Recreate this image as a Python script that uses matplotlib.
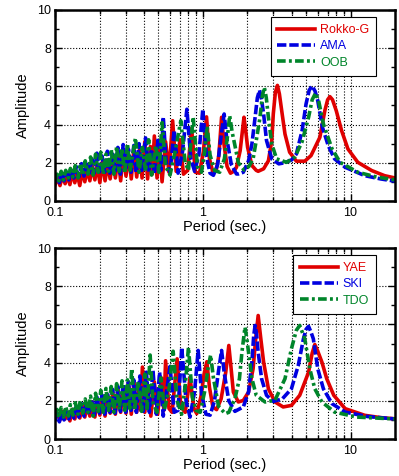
import matplotlib
matplotlib.use('Agg')
import matplotlib.pyplot as plt
from matplotlib.ticker import FixedLocator, NullFormatter, FixedFormatter
import numpy as np

plt.rcParams['font.family'] = ['Liberation Sans', 'DejaVu Sans']

# (period [s], amplitude), upper panel
rokko_g = [(0.100, 0.85), (0.104, 1.20), (0.108, 0.80), (0.112, 1.30), (0.117, 0.90), (0.121, 1.35),
           (0.126, 0.85), (0.131, 1.50), (0.136, 0.95), (0.141, 1.45), (0.147, 0.80), (0.153, 1.60),
           (0.159, 1.00), (0.165, 1.65), (0.172, 1.05), (0.179, 1.80), (0.186, 1.10), (0.193, 1.90),
           (0.201, 0.95), (0.209, 2.05), (0.218, 1.05), (0.227, 1.95), (0.236, 1.15), (0.246, 2.25),
           (0.256, 1.20), (0.267, 2.35), (0.278, 1.05), (0.290, 2.55), (0.302, 1.30), (0.315, 2.40),
           (0.328, 1.15), (0.342, 2.75), (0.357, 1.25), (0.372, 2.65), (0.388, 1.20), (0.405, 3.10),
           (0.423, 1.15), (0.442, 2.85), (0.455, 1.40), (0.470, 3.40), (0.490, 1.20), (0.510, 2.90),
           (0.530, 1.00), (0.560, 3.10), (0.590, 1.50), (0.625, 4.20), (0.660, 1.55), (0.700, 3.20),
           (0.740, 1.40), (0.790, 1.60), (0.840, 3.80), (0.890, 1.50), (0.950, 1.45), (1.010, 2.60),
           (1.060, 4.40), (1.110, 2.20), (1.170, 1.50), (1.230, 1.55), (1.285, 2.40), (1.340, 4.38),
           (1.390, 3.00), (1.460, 1.80), (1.540, 1.45), (1.620, 1.55), (1.690, 1.76), (1.790, 2.63),
           (1.850, 3.60), (1.900, 4.38), (1.950, 3.70), (2.010, 2.81), (2.150, 1.85), (2.300, 1.60),
           (2.370, 1.55), (2.580, 1.68), (2.780, 2.10), (2.930, 3.16), (3.000, 4.55), (3.100, 5.70),
           (3.200, 6.05), (3.300, 5.60), (3.420, 4.73), (3.600, 3.50), (3.870, 2.55), (4.300, 2.08),
           (4.900, 2.08), (5.400, 2.37), (6.200, 3.33), (6.700, 4.73), (7.000, 5.30), (7.250, 5.46),
           (7.550, 5.30), (8.000, 4.73), (8.700, 3.68), (9.600, 2.72), (11.20, 2.02), (13.90, 1.59),
           (17.00, 1.32), (20.00, 1.20)]

ama = [(0.100, 1.00), (0.103, 1.35), (0.107, 0.95), (0.111, 1.45), (0.115, 1.05), (0.119, 1.50),
       (0.124, 1.10), (0.129, 1.65), (0.134, 1.20), (0.139, 1.80), (0.145, 1.25), (0.151, 1.95),
       (0.157, 1.30), (0.163, 2.05), (0.170, 1.35), (0.177, 2.20), (0.184, 1.45), (0.192, 2.50),
       (0.200, 1.40), (0.208, 2.35), (0.217, 1.50), (0.226, 2.60), (0.235, 1.45), (0.245, 2.45),
       (0.255, 1.55), (0.266, 2.80), (0.277, 1.40), (0.289, 2.95), (0.301, 1.60), (0.314, 2.70),
       (0.327, 1.50), (0.341, 2.90), (0.355, 1.45), (0.370, 3.00), (0.386, 1.60), (0.410, 3.30),
       (0.430, 1.50), (0.450, 2.70), (0.470, 1.40), (0.500, 3.30), (0.520, 1.60), (0.540, 4.40),
       (0.565, 2.00), (0.600, 1.50), (0.640, 3.70), (0.680, 1.45), (0.730, 2.60), (0.780, 4.80),
       (0.830, 2.20), (0.880, 1.55), (0.940, 2.40), (1.000, 4.80), (1.060, 2.30), (1.120, 1.45),
       (1.180, 1.34), (1.260, 1.90), (1.330, 3.40), (1.395, 4.55), (1.450, 3.30), (1.560, 1.90),
       (1.690, 1.41), (1.740, 1.41), (1.880, 1.50), (2.040, 2.10), (2.150, 2.98), (2.260, 4.38),
       (2.340, 5.40), (2.420, 5.80), (2.500, 5.30), (2.580, 4.55), (2.700, 3.16), (2.930, 2.20),
       (3.270, 1.94), (3.600, 2.00), (4.000, 2.15), (4.300, 2.46), (4.700, 3.68), (5.000, 5.08),
       (5.250, 5.80), (5.500, 6.02), (5.750, 5.75), (6.000, 5.25), (6.450, 3.86), (7.060, 2.90),
       (7.800, 2.20), (9.200, 1.76), (12.50, 1.32), (16.00, 1.15), (20.00, 1.03)]

oob = [(0.100, 1.10), (0.103, 1.40), (0.106, 1.05), (0.110, 1.55), (0.114, 1.10), (0.118, 1.60),
       (0.123, 1.20), (0.127, 1.70), (0.132, 1.25), (0.137, 1.85), (0.143, 1.20), (0.148, 1.95),
       (0.154, 1.35), (0.160, 2.10), (0.167, 1.40), (0.174, 2.30), (0.181, 1.35), (0.188, 2.45),
       (0.196, 1.50), (0.204, 2.55), (0.212, 1.40), (0.221, 2.45), (0.230, 1.55), (0.240, 2.70),
       (0.250, 1.40), (0.261, 2.85), (0.272, 1.55), (0.284, 2.75), (0.296, 1.45), (0.309, 3.00),
       (0.322, 1.60), (0.350, 3.30), (0.370, 1.50), (0.390, 2.80), (0.410, 1.55), (0.430, 3.20),
       (0.450, 1.35), (0.480, 2.90), (0.505, 1.50), (0.530, 4.10), (0.560, 1.80), (0.600, 1.35),
       (0.650, 2.60), (0.710, 4.20), (0.760, 2.00), (0.800, 1.60), (0.860, 4.40), (0.920, 1.80),
       (0.980, 1.50), (1.030, 2.60), (1.070, 3.90), (1.120, 2.40), (1.200, 1.60), (1.300, 1.50),
       (1.400, 2.20), (1.470, 3.40), (1.520, 4.47), (1.580, 3.60), (1.650, 2.90), (1.740, 2.00),
       (1.900, 1.62), (2.050, 1.80), (2.190, 2.20), (2.300, 3.16), (2.440, 4.38), (2.530, 5.50),
       (2.610, 5.95), (2.690, 5.40), (2.780, 4.38), (2.930, 2.98), (3.160, 2.20), (3.690, 2.02),
       (4.200, 2.30), (4.700, 3.10), (5.200, 4.38), (5.500, 5.30), (5.800, 5.65), (6.100, 5.20),
       (6.550, 4.03), (7.500, 2.72), (8.500, 2.02), (11.20, 1.50), (15.00, 1.25), (20.00, 1.10)]

# lower panel
yae = [(0.100, 1.05), (0.104, 1.35), (0.108, 1.00), (0.112, 1.45), (0.117, 1.05), (0.121, 1.40),
       (0.126, 0.95), (0.131, 1.55), (0.136, 1.05), (0.141, 1.60), (0.147, 1.10), (0.153, 1.75),
       (0.159, 1.15), (0.165, 1.80), (0.172, 1.20), (0.179, 1.95), (0.186, 1.15), (0.193, 2.05),
       (0.201, 1.25), (0.209, 2.20), (0.218, 1.20), (0.227, 2.30), (0.236, 1.35), (0.246, 2.45),
       (0.256, 1.30), (0.267, 2.60), (0.278, 1.40), (0.290, 2.70), (0.302, 1.35), (0.315, 2.85),
       (0.328, 1.30), (0.342, 3.00), (0.357, 1.40), (0.372, 2.80), (0.380, 1.50), (0.390, 3.77),
       (0.405, 1.40), (0.425, 2.80), (0.445, 1.20), (0.470, 3.00), (0.495, 1.30), (0.525, 3.20),
       (0.545, 1.50), (0.560, 4.10), (0.590, 1.60), (0.620, 1.40), (0.670, 4.20), (0.710, 1.70),
       (0.760, 1.40), (0.820, 3.20), (0.870, 1.60), (0.910, 1.33), (0.970, 2.20), (1.020, 3.40),
       (1.065, 4.05), (1.110, 2.70), (1.170, 1.68), (1.240, 1.54), (1.330, 2.10), (1.430, 3.50),
       (1.500, 4.90), (1.550, 3.80), (1.610, 2.46), (1.740, 1.94), (1.880, 2.02), (2.040, 2.46),
       (2.190, 3.68), (2.280, 5.25), (2.370, 6.47), (2.470, 5.25), (2.580, 4.03), (2.780, 2.63),
       (3.080, 1.94), (3.500, 1.68), (3.980, 1.76), (4.530, 2.29), (5.200, 3.50), (5.500, 4.50),
       (5.730, 4.95), (6.000, 4.60), (6.400, 4.03), (6.900, 3.16), (7.700, 2.29), (9.200, 1.59),
       (12.50, 1.24), (16.00, 1.12), (20.00, 1.06)]

ski = [(0.100, 0.95), (0.103, 1.30), (0.107, 0.90), (0.111, 1.40), (0.115, 1.00), (0.119, 1.45),
       (0.124, 1.05), (0.129, 1.60), (0.134, 1.10), (0.139, 1.70), (0.145, 1.15), (0.151, 1.85),
       (0.157, 1.20), (0.163, 1.90), (0.170, 1.30), (0.177, 2.05), (0.184, 1.25), (0.192, 2.20),
       (0.200, 1.35), (0.208, 2.30), (0.217, 1.30), (0.226, 2.45), (0.235, 1.40), (0.245, 2.60),
       (0.255, 1.35), (0.266, 2.75), (0.277, 1.45), (0.289, 2.90), (0.301, 1.40), (0.314, 3.00),
       (0.327, 1.50), (0.341, 3.10), (0.355, 1.40), (0.375, 3.30), (0.395, 1.45), (0.415, 3.50),
       (0.435, 1.40), (0.460, 3.60), (0.485, 1.30), (0.510, 3.50), (0.540, 1.20), (0.600, 3.80),
       (0.640, 1.40), (0.680, 1.50), (0.720, 4.80), (0.770, 2.00), (0.820, 1.15), (0.880, 2.50),
       (0.930, 4.64), (0.980, 2.40), (1.050, 1.30), (1.120, 1.25), (1.200, 2.00), (1.280, 3.60),
       (1.340, 4.64), (1.400, 3.40), (1.500, 2.00), (1.650, 1.45), (1.880, 1.68), (2.040, 2.46),
       (2.150, 4.03), (2.210, 5.40), (2.260, 5.95), (2.310, 5.50), (2.370, 4.55), (2.500, 3.16),
       (2.700, 2.29), (3.000, 1.97), (3.450, 2.10), (3.980, 2.63), (4.430, 3.86), (4.800, 5.25),
       (5.000, 5.75), (5.200, 5.90), (5.400, 5.60), (5.600, 5.25), (6.000, 3.68), (6.550, 2.63),
       (7.500, 1.85), (9.200, 1.41), (13.00, 1.18), (20.00, 1.05)]

tdo = [(0.100, 1.20), (0.103, 1.55), (0.106, 1.10), (0.110, 1.65), (0.114, 1.15), (0.118, 1.70),
       (0.123, 1.20), (0.127, 1.80), (0.132, 1.25), (0.137, 1.90), (0.143, 1.30), (0.148, 2.00),
       (0.154, 1.35), (0.160, 2.10), (0.167, 1.40), (0.174, 2.25), (0.181, 1.20), (0.188, 2.40),
       (0.196, 1.45), (0.204, 2.55), (0.212, 1.40), (0.221, 2.65), (0.230, 1.50), (0.240, 2.75),
       (0.250, 1.40), (0.261, 2.90), (0.272, 1.55), (0.284, 3.05), (0.296, 1.50), (0.309, 3.10),
       (0.320, 1.60), (0.330, 3.70), (0.345, 1.50), (0.365, 3.00), (0.385, 1.45), (0.405, 3.40),
       (0.420, 1.60), (0.440, 4.40), (0.460, 1.90), (0.490, 1.40), (0.520, 3.20), (0.550, 1.55),
       (0.590, 2.60), (0.630, 4.60), (0.670, 2.00), (0.720, 1.30), (0.760, 2.80), (0.800, 4.80),
       (0.850, 2.20), (0.900, 1.50), (0.960, 1.40), (1.030, 2.50), (1.090, 3.80), (1.130, 4.40),
       (1.180, 3.20), (1.280, 1.70), (1.420, 1.33), (1.500, 1.40), (1.650, 2.11), (1.770, 3.16),
       (1.840, 4.55), (1.930, 5.86), (1.990, 5.20), (2.040, 4.55), (2.150, 3.16), (2.300, 2.29),
       (2.640, 1.94), (3.080, 2.03), (3.600, 3.16), (3.980, 4.73), (4.300, 5.70), (4.530, 5.95),
       (4.900, 5.25), (5.300, 3.68), (5.730, 2.63), (6.400, 1.94), (7.800, 1.41), (11.00, 1.15),
       (20.00, 1.05)]

top_series = [('Rokko-G', rokko_g), ('AMA', ama), ('OOB', oob)]
bottom_series = [('YAE', yae), ('SKI', ski), ('TDO', tdo)]

colors = ['#e00000', '#0000e0', '#00852a']
dashes = [None, (2.6, 0.8), (2.4, 0.9, 0.8, 0.9)]

fig = plt.figure(figsize=(3.99, 4.76), dpi=100)
ax_top = fig.add_axes([0.138, 0.578, 0.852, 0.401])
ax_bot = fig.add_axes([0.138, 0.0777, 0.852, 0.401])

for ax, series in [(ax_top, top_series), (ax_bot, bottom_series)]:
    for (name, pts), c, d in zip(series, colors, dashes):
        p, a = np.array(pts).T
        line, = ax.plot(p, a, color=c, lw=2.6, label=name, solid_joinstyle='round')
        if d is not None:
            line.set_dashes(d)
    ax.set_xscale('log')
    ax.set_xlim(0.1, 20)
    ax.set_ylim(0, 10)
    ax.xaxis.set_major_locator(FixedLocator([0.1, 1, 10]))
    ax.xaxis.set_major_formatter(FixedFormatter(['0.1', '1', '10']))
    minors = [m * d for d in (0.1, 1, 10) for m in range(2, 10) if m * d < 20]
    ax.xaxis.set_minor_locator(FixedLocator(minors))
    ax.xaxis.set_minor_formatter(NullFormatter())
    ax.set_yticks([0, 2, 4, 6, 8, 10])
    ax.set_yticks([1, 3, 5, 7, 9], minor=True)
    ax.tick_params(which='both', direction='in', top=True, right=True, labelsize=9)
    ax.tick_params(which='major', length=5, width=1)
    ax.tick_params(which='minor', length=3, width=1)
    ax.tick_params(axis='x', which='major', pad=4.5)
    ax.tick_params(axis='y', which='major', pad=3)
    ax.grid(which='both', axis='x', color='k', ls=':', lw=0.8)
    ax.grid(which='major', axis='y', color='k', ls=':', lw=0.8)
    for s in ax.spines.values():
        s.set_linewidth(1.8)
    ax.set_xlabel('Period (sec.)', fontsize=10.5, labelpad=0.5)
    ax.set_ylabel('Amplitude', fontsize=10.5, labelpad=5)
    leg = ax.legend(loc='upper right', bbox_to_anchor=(0.944, 0.963), borderaxespad=0,
                    fancybox=False, edgecolor='k', framealpha=1, fontsize=9,
                    handlelength=3.0, labelspacing=0.35, borderpad=0.55, handletextpad=0.4)
    leg.get_frame().set_linewidth(0.8)
    for t, c in zip(leg.get_texts(), colors):
        t.set_color(c)

fig.savefig('out.png', dpi=100)
